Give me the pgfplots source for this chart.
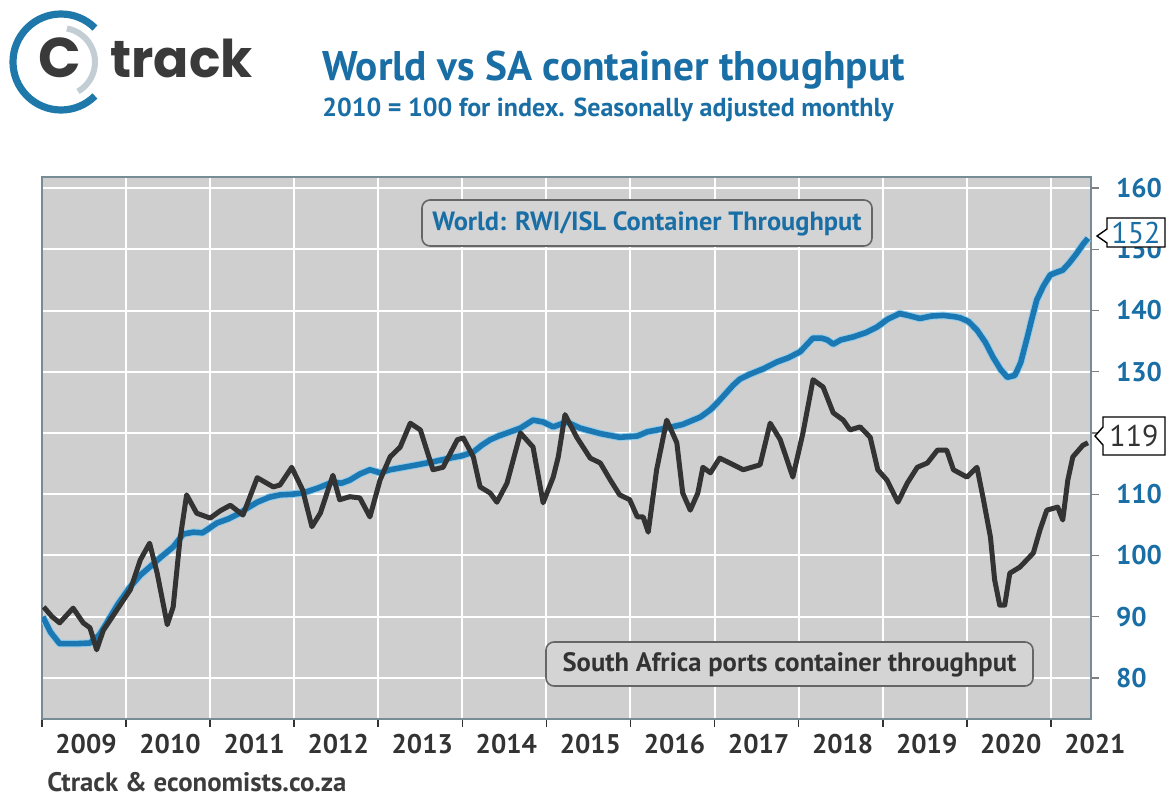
\documentclass[border=0pt]{standalone}
\usepackage{fontspec}
\setmainfont{PT Sans}
\newfontfamily\logofont{Poppins}
\usepackage{pgfplots}
\usepackage{pgfplotstable}
\pgfplotsset{compat=1.18}
\definecolor{wblue}{RGB}{27,120,178}
\definecolor{tblue}{RGB}{25,110,165}
\definecolor{sagray}{RGB}{51,51,51}
\definecolor{txtgray}{RGB}{60,60,60}
\definecolor{bggray}{RGB}{207,207,207}
\definecolor{boxgray}{RGB}{212,212,212}
\definecolor{glow}{RGB}{150,205,235}
\definecolor{ringgray}{RGB}{195,205,212}
\definecolor{logoblue}{RGB}{30,120,170}
\definecolor{framecol}{RGB}{120,140,150}

\pgfplotstableread{
x y
2009.01 90.0
2009.10 87.5
2009.21 85.6
2009.40 85.6
2009.57 85.7
2009.68 87.0
2009.77 89.0
2009.90 92.0
2010.05 94.9
2010.17 96.8
2010.28 98.1
2010.42 99.8
2010.56 101.4
2010.68 103.5
2010.80 103.8
2010.91 103.7
2011.08 105.3
2011.22 106.0
2011.35 106.9
2011.45 107.8
2011.56 108.7
2011.70 109.5
2011.83 109.9
2011.97 110.0
2012.10 110.2
2012.28 111.0
2012.46 112.0
2012.56 111.8
2012.66 112.3
2012.78 113.3
2012.90 114.0
2013.02 113.5
2013.14 114.0
2013.26 114.3
2013.46 114.8
2013.65 115.3
2013.85 115.9
2014.00 116.3
2014.13 116.9
2014.23 118.0
2014.33 118.9
2014.43 119.5
2014.53 120.0
2014.69 120.8
2014.84 122.1
2014.96 121.8
2015.08 121.0
2015.24 121.8
2015.40 120.8
2015.64 119.9
2015.87 119.3
2016.08 119.5
2016.20 120.2
2016.43 120.8
2016.62 121.4
2016.83 122.6
2016.95 123.8
2017.03 124.9
2017.22 127.8
2017.30 128.8
2017.42 129.6
2017.58 130.5
2017.74 131.6
2017.88 132.3
2018.02 133.3
2018.10 134.5
2018.17 135.5
2018.27 135.5
2018.34 135.2
2018.41 134.5
2018.50 135.2
2018.65 135.7
2018.80 136.4
2018.93 137.3
2019.06 138.6
2019.20 139.5
2019.30 139.2
2019.44 138.7
2019.58 139.1
2019.72 139.2
2019.85 139.0
2019.92 138.8
2020.02 138.2
2020.12 136.8
2020.22 134.8
2020.31 132.4
2020.40 130.4
2020.48 129.1
2020.57 129.4
2020.64 131.5
2020.71 135.2
2020.77 138.5
2020.83 141.7
2020.91 144.0
2020.99 145.8
2021.06 146.2
2021.14 146.6
2021.22 147.8
2021.31 149.4
2021.38 150.8
2021.44 151.8
}\worldtbl

\pgfplotstableread{
x y
2009.02 91.6
2009.12 90.0
2009.21 89.0
2009.37 91.4
2009.49 89.0
2009.57 88.2
2009.65 84.6
2009.73 87.8
2009.89 91.1
2010.05 94.4
2010.17 99.3
2010.28 102.0
2010.37 97.1
2010.49 88.7
2010.56 91.6
2010.64 102.5
2010.72 109.9
2010.84 106.9
2011.00 106.1
2011.12 107.3
2011.24 108.2
2011.39 106.6
2011.56 112.7
2011.75 111.2
2011.83 111.5
2011.97 114.4
2012.10 110.7
2012.21 104.7
2012.31 106.9
2012.46 113.1
2012.54 109.1
2012.66 109.6
2012.78 109.4
2012.90 106.3
2013.02 112.3
2013.14 116.1
2013.26 117.7
2013.38 121.6
2013.50 120.5
2013.65 114.0
2013.77 114.4
2013.94 118.9
2014.01 119.2
2014.13 116.1
2014.21 111.2
2014.33 110.2
2014.41 108.7
2014.53 111.8
2014.69 120.0
2014.84 117.7
2014.96 108.6
2015.08 112.8
2015.14 116.1
2015.22 123.0
2015.36 119.3
2015.52 115.9
2015.64 115.1
2015.76 112.3
2015.87 109.9
2015.99 109.1
2016.08 106.3
2016.15 106.3
2016.21 103.8
2016.31 114.0
2016.43 122.1
2016.55 118.4
2016.62 110.2
2016.71 107.4
2016.80 110.2
2016.86 114.4
2016.95 113.5
2017.06 115.9
2017.18 115.1
2017.34 114.0
2017.54 114.8
2017.66 121.6
2017.78 118.9
2017.93 112.8
2018.05 120.0
2018.17 128.7
2018.29 127.5
2018.41 123.3
2018.53 122.1
2018.61 120.5
2018.73 121.0
2018.85 119.3
2018.94 114.0
2019.05 112.3
2019.18 108.7
2019.29 111.8
2019.41 114.4
2019.53 115.1
2019.65 117.2
2019.76 117.2
2019.84 114.0
2020.00 112.8
2020.12 114.4
2020.19 109.6
2020.28 103.0
2020.33 96.0
2020.39 91.9
2020.45 91.9
2020.51 97.1
2020.63 98.1
2020.79 100.4
2020.87 104.2
2020.95 107.4
2021.08 107.9
2021.14 105.8
2021.20 112.3
2021.26 116.1
2021.38 118.0
2021.44 118.4
}\satbl

\begin{document}
\begin{tikzpicture}
\useasboundingbox (0,0) rectangle (584.5pt,400pt);
\begin{axis}[
  at={(21pt,40.5pt)}, anchor=south west,
  scale only axis, width=524.5pt, height=271pt,
  xmin=2009, xmax=2021.476, ymin=73.3, ymax=161.8,
  axis background/.style={fill=bggray},
  axis line style={draw=framecol, line width=0.6pt},
  grid=major, grid style={white, line width=1pt},
  xtick={2009,...,2021},
  xticklabels={2009,2010,2011,2012,2013,2014,2015,2016,2017,2018,2019,2020,2021},
  ytick={80,90,...,160},
  yticklabels={80,90,100,110,{},130,140,150,160},
  xtick pos=bottom, ytick pos=right, yticklabel pos=right,
  tick align=outside,
  major tick length=4pt,
  xtick style={sagray, line width=0.8pt},
  ytick style={gray, line width=0.6pt},
  /pgf/number format/assume math mode=true,
  /pgf/number format/1000 sep={},
  xticklabel style={font=\bfseries\fontsize{13.5}{14}\selectfont, text=sagray, xshift=22pt},
  yticklabel style={font=\bfseries\fontsize{13.5}{14}\selectfont, text=tblue, xshift=5pt},
]
\addplot[glow, line width=3.8pt, line join=round, no markers] table[x=x,y=y]{\worldtbl};
\addplot[wblue, line width=2.8pt, line join=round, no markers] table[x=x,y=y]{\worldtbl};
\addplot[sagray, line width=2.5pt, line join=round, no markers] table[x=x,y=y]{\satbl};
\end{axis}

% logo
\draw[logoblue, line width=3.6pt] (30.5pt,369pt) ++(45:24pt) arc[start angle=45, end angle=315, radius=24pt];
\draw[ringgray, line width=3pt] (30.5pt,369pt) ++(-60:17pt) arc[start angle=-60, end angle=80, radius=17pt];

\begin{scope}[x=0.5pt,y=-0.5pt,shift={(0pt,400pt)}]
\node[anchor=base west, inner sep=0pt, text={rgb,255:red,58;green,58;blue,58}] at (38,78) {\logofont\bfseries\fontsize{28}{28}\selectfont C};
\node[anchor=base west, inner sep=0pt, text={rgb,255:red,58;green,58;blue,58}] at (110,78) {\logofont\bfseries\fontsize{26}{26}\selectfont track};

\node[anchor=base west, inner sep=0pt, text=tblue] at (322,81) {\bfseries\fontsize{20.7}{21}\selectfont World vs SA container thoughput};
\node[anchor=base west, inner sep=0pt, text=tblue] at (322,117) {\bfseries\fontsize{13}{13}\selectfont 2010 = 100 for index. Seasonally adjusted monthly};
\node[anchor=base west, inner sep=0pt, text=txtgray] at (47,791) {\bfseries\fontsize{13.4}{13.4}\selectfont Ctrack \& economists.co.za};

\draw[rounded corners=4pt, fill=boxgray, draw=gray!80!black, line width=0.8pt] (422,200) rectangle (872,246);
\node[text=tblue] at (647,224) {\bfseries\fontsize{13.2}{14}\selectfont World: RWI/ISL Container Throughput};
\draw[rounded corners=4pt, fill=boxgray, draw=gray!80!black, line width=0.8pt] (546,642) rectangle (1033,686);
\node[text=sagray] at (789.5,665) {\bfseries\fontsize{13.3}{14}\selectfont South Africa ports container throughput};

\draw[fill=white, draw=black, line width=0.7pt] (1107,218) -- (1107,229) -- (1097,236) -- (1107,243) -- (1107,247) -- (1165,247) -- (1165,218) -- cycle;
\node[text=tblue] at (1136,233) {\fontsize{15}{15}\selectfont 152};
\draw[fill=white, draw=black, line width=0.7pt] (1103,417) -- (1103,427) -- (1095,436) -- (1103,445) -- (1103,455) -- (1165,455) -- (1165,417) -- cycle;
\node[text=sagray] at (1134,436) {\fontsize{15}{15}\selectfont 119};
\end{scope}
\end{tikzpicture}
\end{document}
